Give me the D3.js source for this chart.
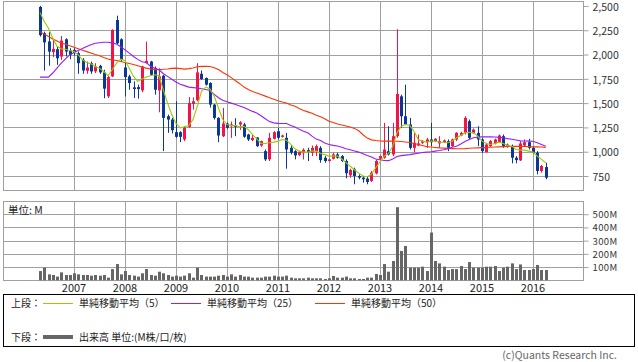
<!DOCTYPE html>
<html><head><meta charset="utf-8">
<script src="https://cdn.jsdelivr.net/npm/d3@7"></script>
<style>
body{margin:0;background:#fff}
svg{display:block}
text{font-family:"Noto Sans CJK JP","Noto Sans",sans-serif}
</style>
</head><body>
<svg id="c" width="638" height="362"></svg>
<script>
// monthly candles, May 2006 - Apr 2016
const open  = [2490,2220,2135,2025,2055,1979,2157,2041,2048,2014,1946,1833,1911,1826,1884,1816,1570,1775,2355,2157,
               1867,1775,1662,1665,1631,1911,1928,1860,1631,1782,1365,1331,1201,1201,1126,1256,1491,1529,1802,1758,
               1707,1485,1348,1160,1290,1262,1270,1280,1280,1177,1119,1146,1064,1006,921,1133,1211,1153,1143,1040,
               1006,965,985,1016,989,1006,1040,938,904,928,972,955,904,757,819,750,733,723,699,777,
               928,938,1006,972,1160,1570,1365,1280,1040,1064,1092,1098,1126,1109,1085,1098,1109,1057,1126,1167,
               1194,1314,1194,1194,1126,996,1057,1085,1098,1160,1051,1057,938,911,1064,1098,1040,989,802,842];
const high  = [2500,2235,2230,2157,2082,2191,2167,2065,2065,2031,1963,1928,1928,1911,1894,1843,1782,2260,2400,2167,
               1928,1792,1724,1690,1884,2133,1935,1877,1860,1792,1382,1348,1519,1211,1263,1563,1560,1911,1836,1765,
               1715,1490,1355,1451,1300,1310,1345,1314,1297,1185,1177,1150,1115,1023,1194,1211,1245,1175,1194,1064,
               1016,1010,1035,1040,1064,1074,1057,955,930,989,989,965,921,825,836,767,750,750,801,921,
               962,1297,1262,1297,2260,1587,1690,1348,1194,1177,1120,1143,1297,1140,1160,1125,1126,1135,1201,1205,
               1365,1331,1240,1262,1143,1092,1120,1135,1177,1177,1085,1074,955,1109,1126,1133,1050,1006,863,887];
const low   = [2185,1835,1885,1973,1894,1945,1980,1952,1987,1802,1802,1802,1802,1809,1802,1550,1553,1768,2100,1928,
               1570,1638,1553,1546,1611,1911,1782,1587,1406,1006,1194,1188,1143,1099,1109,1246,1433,1519,1740,1680,
               1454,1331,1098,1150,1235,1143,1160,1225,1143,1110,1109,1050,1050,904,904,1126,1126,1145,825,972,
               921,955,920,904,955,955,887,887,900,921,928,895,726,733,665,716,682,665,689,767,
               921,928,962,955,1143,1245,1275,1023,996,1057,1080,1040,1057,1100,1040,1090,1006,1050,1109,1160,
               1177,1126,1185,1057,989,989,1050,1075,1092,1040,1040,880,880,904,1057,1023,980,767,784,716];
const close = [2200,2125,2030,2058,1962,2143,2031,1997,2014,1911,1836,1867,1826,1877,1816,1649,1768,2253,2116,1946,
               1768,1707,1645,1645,1877,1935,1792,1638,1775,1348,1331,1222,1153,1153,1246,1502,1519,1816,1748,1690,
               1485,1348,1167,1290,1246,1280,1256,1303,1154,1126,1143,1057,1109,921,1143,1201,1143,1167,1023,989,
               962,1000,1020,996,1040,1057,914,904,921,972,938,904,778,812,750,733,716,689,784,904,
               955,1023,972,1160,1594,1365,1280,1040,1092,1085,1109,1126,1098,1133,1109,1116,1040,1126,1194,1194,
               1348,1143,1228,1126,1006,1074,1109,1126,1167,1057,1074,938,914,1085,1098,1040,989,802,853,733];
const volume = [70,96,45,40,28,60,40,40,53,45,40,40,35,40,35,40,20,85,123,45,
                70,40,35,28,53,85,40,35,65,53,40,28,35,28,35,53,20,96,40,28,
                28,28,35,40,28,45,28,40,28,28,20,20,20,28,28,35,28,28,35,20,
                15,15,15,20,15,15,15,10,15,33,20,20,28,15,15,10,10,20,20,48,
                40,123,65,146,553,222,260,96,96,96,103,70,361,146,128,103,78,85,85,108,
                85,138,96,96,96,103,103,108,70,96,103,128,85,120,78,78,85,116,78,78];
const ma5  = [2434,2340,2270,2170,2085,2060,2055,2041,2031,1997,1946,1918,1904,1877,1860,1826,1782,1843,1911,1952,
              1938,1860,1775,1724,1748,1768,1782,1792,1782,1638,1502,1382,1290,1246,1256,1269,1331,1467,1621,1665,
              1645,1570,1450,1331,1280,1269,1269,1256,1262,1228,1177,1133,1085,1085,1092,1099,1109,1126,1119,1075,
              1030,1006,996,996,1006,1006,982,970,955,955,955,925,887,850,812,780,750,743,767,835,
              894,955,982,1057,1194,1262,1280,1269,1211,1126,1109,1098,1109,1109,1098,1098,1092,1109,1143,1167,
              1194,1201,1194,1160,1109,1085,1075,1085,1098,1085,1064,1057,1023,1016,1016,1006,996,955,921,887];
const ma25 = [1768,1768,1768,1810,1860,1911,1955,1997,2020,2041,2062,2082,2100,2116,2122,2126,2126,2120,2109,2080,
              2048,2015,1980,1950,1925,1918,1880,1860,1843,1805,1775,1745,1718,1695,1680,1665,1660,1655,1648,1640,
              1631,1590,1555,1530,1515,1500,1485,1470,1455,1435,1415,1399,1370,1340,1310,1297,1292,1290,1290,1270,
              1255,1230,1211,1195,1160,1130,1115,1090,1075,1065,1058,1045,1030,1020,1008,996,980,960,945,925,
              918,910,908,925,950,960,965,970,978,985,992,996,1000,1006,1012,1020,1030,1045,1057,1080,
              1105,1125,1143,1150,1153,1153,1153,1152,1148,1143,1135,1128,1120,1112,1110,1109,1108,1092,1075,1057];
const ma50 = [2236,2210,2185,2160,2140,2118,2105,2090,2075,2060,2045,2030,2015,2000,1988,1970,1955,1945,1938,1928,
              1918,1908,1897,1885,1872,1860,1852,1845,1845,1848,1852,1858,1860,1855,1850,1855,1862,1875,1878,1878,
              1877,1865,1845,1815,1792,1762,1730,1700,1665,1640,1620,1604,1588,1572,1555,1540,1525,1512,1502,1480,
              1468,1445,1425,1410,1395,1375,1360,1340,1314,1300,1285,1275,1265,1255,1240,1215,1175,1140,1122,1115,
              1110,1109,1109,1109,1108,1105,1100,1095,1085,1075,1063,1052,1048,1044,1040,1037,1034,1032,1030,1030,
              1032,1035,1038,1040,1042,1044,1046,1048,1050,1052,1054,1055,1055,1055,1053,1052,1050,1050,1048,1045];
const priceTicks = [750,1000,1250,1500,1750,2000,2250,2500];
const volTicks = [100,200,300,400,500];
const years = [2007,2008,2009,2010,2011,2012,2013,2014,2015,2016];
const legendTop = ["単純移動平均（5）","単純移動平均（25）","単純移動平均（50）"];

const months = d3.timeMonth.range(new Date(2006,4,1), new Date(2016,4,1));
const svg = d3.select("#c");
svg.append("rect").attr("width",638).attr("height",362).attr("fill","#fff");

const L = 3, R = 583;
const x = d3.scaleLinear().domain([-8.706, 127.765]).range([L, R]);
const y = d3.scaleLinear().domain([606, 2551]).range([190, 1]);
const yv = d3.scaleLinear().domain([0, 600]).range([280.3, 201]);
const cx = i => Math.round(x(i)) + 0.5;
const yearIdx = years.map(yr => months.findIndex(d => d.getFullYear() === yr && d.getMonth() === 0));

const grid = "#a0a0a0";
const UP = "#f5124b", DOWN = "#0a3897";
const numFont = '"Liberation Sans",Arial,sans-serif';

// ---------- price panel ----------
const gP = svg.append("g");
gP.selectAll("line.h").data(priceTicks.filter(v => v < 2500)).join("line")
  .attr("x1", L).attr("x2", R)
  .attr("y1", d => Math.round(y(d)) + 0.5).attr("y2", d => Math.round(y(d)) + 0.5)
  .attr("stroke", grid);
gP.selectAll("line.v").data(yearIdx).join("line")
  .attr("x1", d => cx(d)).attr("x2", d => cx(d)).attr("y1", 1).attr("y2", 190)
  .attr("stroke", grid);
gP.append("rect").attr("x", L + 0.5).attr("y", 1.5).attr("width", R - L).attr("height", 189)
  .attr("fill", "none").attr("stroke", grid);

const axP = d3.axisRight(y).tickValues(priceTicks).tickSize(5).tickPadding(4)
  .tickFormat(d3.format(","));
const gAx = svg.append("g").attr("transform", `translate(${R + 0.5},0)`).call(axP);
gAx.select(".domain").remove();
gAx.selectAll(".tick line").attr("stroke", grid);
gAx.selectAll(".tick text").attr("font-size", 10.5).attr("fill", "#333")
  .attr("font-family", numFont).attr("dy", "0.4em");

// candles
const gC = svg.append("g");
const idx = d3.range(close.length);
gC.selectAll("line.w").data(idx).join("line")
  .attr("x1", i => cx(i)).attr("x2", i => cx(i))
  .attr("y1", i => y(high[i])).attr("y2", i => y(low[i]))
  .attr("stroke", i => close[i] >= open[i] ? UP : DOWN).attr("stroke-width", 1);
gC.selectAll("rect").data(idx).join("rect")
  .attr("x", i => Math.round(x(i)) - 1)
  .attr("width", 3)
  .attr("y", i => y(Math.max(open[i], close[i])))
  .attr("height", i => Math.max(1, Math.abs(y(open[i]) - y(close[i]))))
  .attr("fill", i => close[i] >= open[i] ? UP : DOWN);

// moving averages
const line = d3.line().x((d, i) => x(i)).y(d => y(d));
[[ma50, "#ff3300"], [ma25, "#9a1cf5"], [ma5, "#99cc00"]].forEach(([arr, col]) => {
  svg.append("path").datum(arr).attr("d", line).attr("fill", "none")
    .attr("stroke", col).attr("stroke-width", 1.1);
});

// ---------- volume panel ----------
const gV = svg.append("g");
gV.selectAll("line.h").data(volTicks).join("line")
  .attr("x1", L).attr("x2", R)
  .attr("y1", d => Math.round(yv(d)) + 0.5).attr("y2", d => Math.round(yv(d)) + 0.5)
  .attr("stroke", grid);
gV.selectAll("line.v").data(yearIdx).join("line")
  .attr("x1", d => cx(d)).attr("x2", d => cx(d)).attr("y1", 201).attr("y2", 280)
  .attr("stroke", grid);
gV.append("rect").attr("x", L + 0.5).attr("y", 201.5).attr("width", R - L).attr("height", 79)
  .attr("fill", "none").attr("stroke", grid);
gV.selectAll("rect.b").data(idx).join("rect")
  .attr("x", i => Math.round(x(i)) - 1).attr("width", 3)
  .attr("y", i => yv(volume[i])).attr("height", i => yv(0) - yv(volume[i]))
  .attr("fill", "#666");

const axV = d3.axisRight(yv).tickValues(volTicks).tickSize(5).tickPadding(4)
  .tickFormat(d => d + "M");
const gAv = svg.append("g").attr("transform", `translate(${R + 0.5},0)`).call(axV);
gAv.select(".domain").remove();
gAv.selectAll(".tick line").attr("stroke", grid);
gAv.selectAll(".tick text").attr("font-size", 9.5).attr("fill", "#333")
  .attr("letter-spacing", "0.4px")
  .attr("font-family", numFont).attr("dy", "0.36em");

svg.append("text").attr("x", 8).attr("y", 213.5).attr("font-size", 10.5).attr("fill", "#222").text("単位: M");

// year labels
svg.selectAll("text.yr").data(years).join("text")
  .attr("x", (d, k) => x(yearIdx[k])).attr("y", 292)
  .attr("text-anchor", "middle").attr("font-size", 11).attr("fill", "#222")
  .attr("font-family", numFont).text(d => d);

// ---------- legend ----------
svg.append("rect").attr("x", 3.5).attr("y", 294.5).attr("width", 631).attr("height", 52)
  .attr("fill", "none").attr("stroke", "#000");
const lg = svg.append("g").attr("font-size", 10).attr("fill", "#222");
lg.append("text").attr("x", 11).attr("y", 307).text("上段：");
const cols = ["#99cc00", "#9a1cf5", "#ff3300"];
const lx = [43, 171, 315];
legendTop.forEach((t, k) => {
  lg.append("line").attr("x1", lx[k]).attr("x2", lx[k] + 30).attr("y1", 303.5).attr("y2", 303.5)
    .attr("stroke", cols[k]).attr("stroke-width", 1);
  lg.append("text").attr("x", lx[k] + 36).attr("y", 307).text(t);
});
lg.append("text").attr("x", 11).attr("y", 341).text("下段：");
lg.append("line").attr("x1", 43).attr("x2", 73).attr("y1", 337).attr("y2", 337)
  .attr("stroke", "#666").attr("stroke-width", 4);
lg.append("text").attr("x", 79).attr("y", 341).text("出来高 単位:(M株/口/枚)");

svg.append("text").attr("x", 617).attr("y", 358.5).attr("text-anchor", "end")
  .attr("font-size", 10.5).attr("fill", "#666").attr("font-family", numFont)
  .text("(c)Quants Research Inc.");
</script>
</body></html>
